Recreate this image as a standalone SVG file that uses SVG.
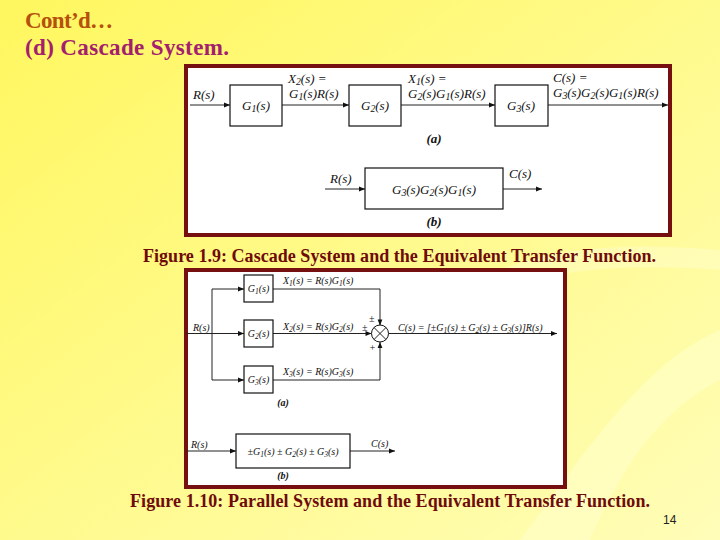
<svg xmlns="http://www.w3.org/2000/svg" width="720" height="540" viewBox="0 0 720 540">
<defs>
<linearGradient id="bg" x1="0" y1="0" x2="1" y2="1">
<stop offset="0" stop-color="#FFF75E"/>
<stop offset="0.5" stop-color="#FFFA8C"/>
<stop offset="1" stop-color="#FFFDB8"/>
</linearGradient>
<marker id="arr" viewBox="0 0 10 10" refX="10" refY="5" markerWidth="9" markerHeight="6" markerUnits="userSpaceOnUse" orient="auto">
<path d="M0,1 L10,5 L0,9 z" fill="#111"/>
</marker>
<style>
.frame{fill:#fff;stroke:#761010;stroke-width:4}
.blk{fill:#fff;stroke:#111;stroke-width:1.2}
.ln{fill:none;stroke:#222;stroke-width:1}
.m{font-family:"Liberation Serif",serif;font-style:italic;fill:#111;font-size:13px}
.m2{font-family:"Liberation Serif",serif;font-style:italic;fill:#111;font-size:10px}
.cap{font-family:"Liberation Serif",serif;font-weight:bold;fill:#6E0B0B;font-size:18px}
.sub{font-size:75%}
</style>
</defs>
<rect width="720" height="540" fill="url(#bg)"/>
<path d="M520,540 C600,430 650,360 720,330 L720,380 C660,410 620,470 590,540 z" fill="#FFFFD0" opacity="0.5"/>
<path d="M440,300 C520,250 600,240 720,250 L720,270 C610,262 530,270 460,310 z" fill="#FFFFD6" opacity="0.4"/>

<g id="title">
<text x="25" y="28" font-family="Liberation Serif,serif" font-weight="bold" font-size="23" fill="#B5500D" textLength="88">Cont’d…</text>
<text x="25" y="55" font-family="Liberation Serif,serif" font-weight="bold" font-size="23" fill="#A3206E" textLength="204">(d) Cascade System.</text>
</g>

<!-- Figure 1.9 -->
<rect class="frame" x="186" y="66" width="484" height="169"/>
<g id="fig1-connectors">
<line class="ln" x1="190" y1="105" x2="230" y2="105" marker-end="url(#arr)"/>
<line class="ln" x1="282" y1="105" x2="349" y2="105" marker-end="url(#arr)"/>
<line class="ln" x1="401" y1="105" x2="495" y2="105" marker-end="url(#arr)"/>
<line class="ln" x1="548" y1="105" x2="668" y2="105" marker-end="url(#arr)"/>
<line class="ln" x1="325" y1="189" x2="365" y2="189" marker-end="url(#arr)"/>
<line class="ln" x1="503" y1="189" x2="542" y2="189" marker-end="url(#arr)"/>
</g>
<g id="f1-G1"><rect class="blk" x="230" y="85" width="52" height="41"/><text class="m" x="256" y="110" text-anchor="middle">G<tspan class="sub" dy="2">1</tspan><tspan dy="-2">(s)</tspan></text></g>
<g id="f1-G2"><rect class="blk" x="349" y="85" width="52" height="41"/><text class="m" x="375" y="110" text-anchor="middle">G<tspan class="sub" dy="2">2</tspan><tspan dy="-2">(s)</tspan></text></g>
<g id="f1-G3"><rect class="blk" x="495" y="85" width="53" height="41"/><text class="m" x="521" y="110" text-anchor="middle">G<tspan class="sub" dy="2">3</tspan><tspan dy="-2">(s)</tspan></text></g>
<g id="f1-labels">
<text class="m" x="193" y="99">R(s)</text>
<text class="m" x="288" y="83">X<tspan class="sub" dy="2">2</tspan><tspan dy="-2">(s) =</tspan></text>
<text class="m" x="289" y="98">G<tspan class="sub" dy="2">1</tspan><tspan dy="-2">(s)R(s)</tspan></text>
<text class="m" x="408" y="83">X<tspan class="sub" dy="2">1</tspan><tspan dy="-2">(s) =</tspan></text>
<text class="m" x="408" y="98">G<tspan class="sub" dy="2">2</tspan><tspan dy="-2">(s)G</tspan><tspan class="sub" dy="2">1</tspan><tspan dy="-2">(s)R(s)</tspan></text>
<text class="m" x="553" y="82">C(s) =</text>
<text class="m" x="553" y="97">G<tspan class="sub" dy="2">3</tspan><tspan dy="-2">(s)G</tspan><tspan class="sub" dy="2">2</tspan><tspan dy="-2">(s)G</tspan><tspan class="sub" dy="2">1</tspan><tspan dy="-2">(s)R(s)</tspan></text>
<text class="m" x="434" y="143" text-anchor="middle" font-weight="bold">(a)</text>
<text class="m" x="330" y="183">R(s)</text>
<text class="m" x="509" y="178">C(s)</text>
<text class="m" x="434" y="226" text-anchor="middle" font-weight="bold">(b)</text>
</g>
<g id="f1-Geq"><rect class="blk" x="365" y="168" width="138" height="41"/><text class="m" x="434" y="194" text-anchor="middle">G<tspan class="sub" dy="2">3</tspan><tspan dy="-2">(s)G</tspan><tspan class="sub" dy="2">2</tspan><tspan dy="-2">(s)G</tspan><tspan class="sub" dy="2">1</tspan><tspan dy="-2">(s)</tspan></text></g>

<text class="cap" x="143" y="262" textLength="513">Figure 1.9: Cascade System and the Equivalent Transfer Function.</text>

<!-- Figure 1.10 -->
<rect class="frame" x="186" y="270" width="379" height="217"/>
<g id="fig2-connectors">
<line class="ln" x1="186" y1="333.5" x2="244" y2="333.5" marker-end="url(#arr)"/>
<polyline class="ln" points="212,380 212,289"/>
<line class="ln" x1="212" y1="289" x2="244" y2="289" marker-end="url(#arr)"/>
<line class="ln" x1="212" y1="380" x2="244" y2="380" marker-end="url(#arr)"/>
<polyline class="ln" points="273,289 380,289 380,325.5" marker-end="url(#arr)"/>
<line class="ln" x1="273" y1="333.5" x2="371.5" y2="333.5" marker-end="url(#arr)"/>
<polyline class="ln" points="273,380 380,380 380,342" marker-end="url(#arr)"/>
<line class="ln" x1="388.5" y1="333.5" x2="557" y2="333.5" marker-end="url(#arr)"/>
<line class="ln" x1="186" y1="451" x2="236" y2="451" marker-end="url(#arr)"/>
<line class="ln" x1="350" y1="451" x2="395" y2="451" marker-end="url(#arr)"/>
</g>
<g id="f2-G1"><rect class="blk" x="244" y="275" width="29" height="27"/><text class="m2" x="258.5" y="292" text-anchor="middle">G<tspan class="sub" dy="2">1</tspan><tspan dy="-2">(s)</tspan></text></g>
<g id="f2-G2"><rect class="blk" x="244" y="320" width="29" height="27"/><text class="m2" x="258.5" y="337" text-anchor="middle">G<tspan class="sub" dy="2">2</tspan><tspan dy="-2">(s)</tspan></text></g>
<g id="f2-G3"><rect class="blk" x="244" y="366" width="29" height="27"/><text class="m2" x="258.5" y="383" text-anchor="middle">G<tspan class="sub" dy="2">3</tspan><tspan dy="-2">(s)</tspan></text></g>
<g id="f2-sum">
<circle cx="380" cy="333.5" r="8.5" fill="#fff" stroke="#111" stroke-width="1"/>
<line class="ln" x1="374" y1="327.5" x2="386" y2="339.5"/>
<line class="ln" x1="386" y1="327.5" x2="374" y2="339.5"/>
</g>
<g id="f2-labels">
<text class="m2" x="193" y="331">R(s)</text>
<text class="m2" x="283" y="284">X<tspan class="sub" dy="2">1</tspan><tspan dy="-2">(s) = R(s)G</tspan><tspan class="sub" dy="2">1</tspan><tspan dy="-2">(s)</tspan></text>
<text class="m2" x="283" y="330">X<tspan class="sub" dy="2">2</tspan><tspan dy="-2">(s) = R(s)G</tspan><tspan class="sub" dy="2">2</tspan><tspan dy="-2">(s)</tspan></text>
<text class="m2" x="283" y="375">X<tspan class="sub" dy="2">3</tspan><tspan dy="-2">(s) = R(s)G</tspan><tspan class="sub" dy="2">3</tspan><tspan dy="-2">(s)</tspan></text>
<text class="m2" x="369" y="322" font-style="normal">±</text>
<text class="m2" x="362" y="331" font-style="normal">±</text>
<text class="m2" x="369" y="351" font-style="normal">+</text>
<text class="m2" x="398" y="331">C(s) = [±G<tspan class="sub" dy="2">1</tspan><tspan dy="-2">(s) ± G</tspan><tspan class="sub" dy="2">2</tspan><tspan dy="-2">(s) ± G</tspan><tspan class="sub" dy="2">3</tspan><tspan dy="-2">(s)]R(s)</tspan></text>
<text class="m2" x="283" y="406" text-anchor="middle" font-weight="bold">(a)</text>
<text class="m2" x="191" y="448">R(s)</text>
<text class="m2" x="371" y="447">C(s)</text>
<text class="m2" x="283" y="479" text-anchor="middle" font-weight="bold">(b)</text>
</g>
<g id="f2-Geq"><rect class="blk" x="236" y="434" width="114" height="34"/><text class="m2" x="293" y="455" text-anchor="middle">±G<tspan class="sub" dy="2">1</tspan><tspan dy="-2">(s) ± G</tspan><tspan class="sub" dy="2">2</tspan><tspan dy="-2">(s) ± G</tspan><tspan class="sub" dy="2">3</tspan><tspan dy="-2">(s)</tspan></text></g>

<text class="cap" x="130" y="507" textLength="520">Figure 1.10: Parallel System and the Equivalent Transfer Function.</text>
<text x="663" y="524" font-family="Liberation Sans,sans-serif" font-size="12" fill="#222">14</text>
</svg>
